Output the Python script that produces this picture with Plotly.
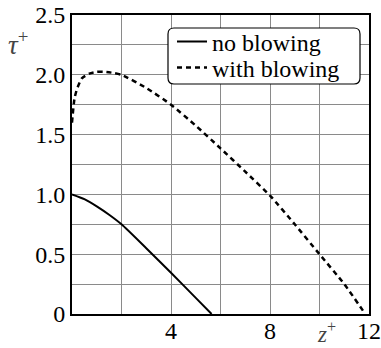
import plotly.graph_objects as go

# data
z_no = [0, 0.5, 1.0, 1.5, 2.0, 3.0, 4.0, 5.0, 5.64]
tau_no = [1.0, 0.96, 0.9, 0.83, 0.75, 0.55, 0.345, 0.135, 0.0]

z_bl = [0, 0.1, 0.2, 0.4, 0.7, 1.0, 1.3, 1.7, 2.0, 3.0, 4.0, 5.0, 6.0, 7.0, 8.0, 9.0, 10.0, 11.0, 11.85]
tau_bl = [1.6, 1.8, 1.88, 1.97, 2.01, 2.025, 2.025, 2.015, 2.0, 1.89, 1.75, 1.575, 1.385, 1.19, 0.99, 0.75, 0.5, 0.25, 0.0]

x_tickvals = [4, 8, 12]
x_ticktext = ["4", "8", "12"]
y_tickvals = [0, 0.5, 1.0, 1.5, 2.0, 2.5]
y_ticktext = ["0", "0.5", "1.0", "1.5", "2.0", "2.5"]

FONT = "Liberation Serif"
FS = 24

# plot area in pixels
L, R, T, B = 72, 369, 15, 314

def px(xv):
    return (xv - L) / (R - L)

def py(yv):
    return (B - yv) / (B - T)

fig = go.Figure()
fig.add_trace(go.Scatter(x=z_no, y=tau_no, mode="lines", name="no blowing",
                         line=dict(color="black", width=2, shape="spline", smoothing=0.6),
                         legend="legend"))
fig.add_trace(go.Scatter(x=z_bl, y=tau_bl, mode="lines", name="with blowing",
                         line=dict(color="black", width=2.5, dash="5px,4px", shape="spline", smoothing=0.6),
                         legend="legend2"))

leg_common = dict(xanchor="left", yanchor="middle", bgcolor="rgba(0,0,0,0)", borderwidth=0,
                  font=dict(family=FONT, size=FS, color="black"), itemwidth=30)

fig.update_layout(
    width=381, height=348,
    margin=dict(l=L, r=381 - R, t=T, b=348 - B, autoexpand=False),
    paper_bgcolor="white", plot_bgcolor="white",
    font=dict(family=FONT, size=FS, color="black"),
    showlegend=True,
    legend=dict(x=px(172), y=py(42), **leg_common),
    legend2=dict(x=px(172), y=py(68), **leg_common),
    xaxis=dict(range=[0, 12], tickvals=x_tickvals, ticktext=x_ticktext,
               showgrid=False, zeroline=False, automargin=False,
               showline=True, linecolor="black", linewidth=2, mirror=True,
               ticks="", tickfont=dict(family=FONT, size=FS), ticklabelstandoff=-6,
               minor=dict(dtick=2, tick0=0, showgrid=True, gridcolor="#8a8a8a", gridwidth=1, ticks="")),
    yaxis=dict(range=[0, 2.5], tickvals=y_tickvals, ticktext=y_ticktext,
               showgrid=False, zeroline=False, automargin=False,
               showline=True, linecolor="black", linewidth=2, mirror=True,
               ticks="", tickfont=dict(family=FONT, size=FS),
               minor=dict(dtick=0.25, tick0=0, showgrid=True, gridcolor="#8a8a8a", gridwidth=1, ticks="")),
)

# rounded legend box
x0, x1, y0, y1, r = 168, 360, 28, 84, 6
path = (f"M {px(x0+r)},{py(y0)} L {px(x1-r)},{py(y0)} Q {px(x1)},{py(y0)} {px(x1)},{py(y0+r)} "
        f"L {px(x1)},{py(y1-r)} Q {px(x1)},{py(y1)} {px(x1-r)},{py(y1)} "
        f"L {px(x0+r)},{py(y1)} Q {px(x0)},{py(y1)} {px(x0)},{py(y1-r)} "
        f"L {px(x0)},{py(y0+r)} Q {px(x0)},{py(y0)} {px(x0+r)},{py(y0)} Z")
fig.add_shape(type="path", path=path, xref="paper", yref="paper",
              line=dict(color="black", width=1.2), fillcolor="white", layer="above")

fig.add_annotation(text="<i>τ</i><sup>+</sup>", xref="paper", yref="paper",
                   x=px(6), y=py(43), xanchor="left", yanchor="middle",
                   showarrow=False, font=dict(family=FONT, size=27, color="#444"))
fig.add_annotation(text="<i>z</i><sup>+</sup>", xref="paper", yref="paper",
                   x=px(326), y=py(332), xanchor="center", yanchor="middle",
                   showarrow=False, font=dict(family=FONT, size=23, color="#444"))

fig.write_html("out.html", config={"displayModeBar": False},
               post_script="document.body.style.margin='0px';")
